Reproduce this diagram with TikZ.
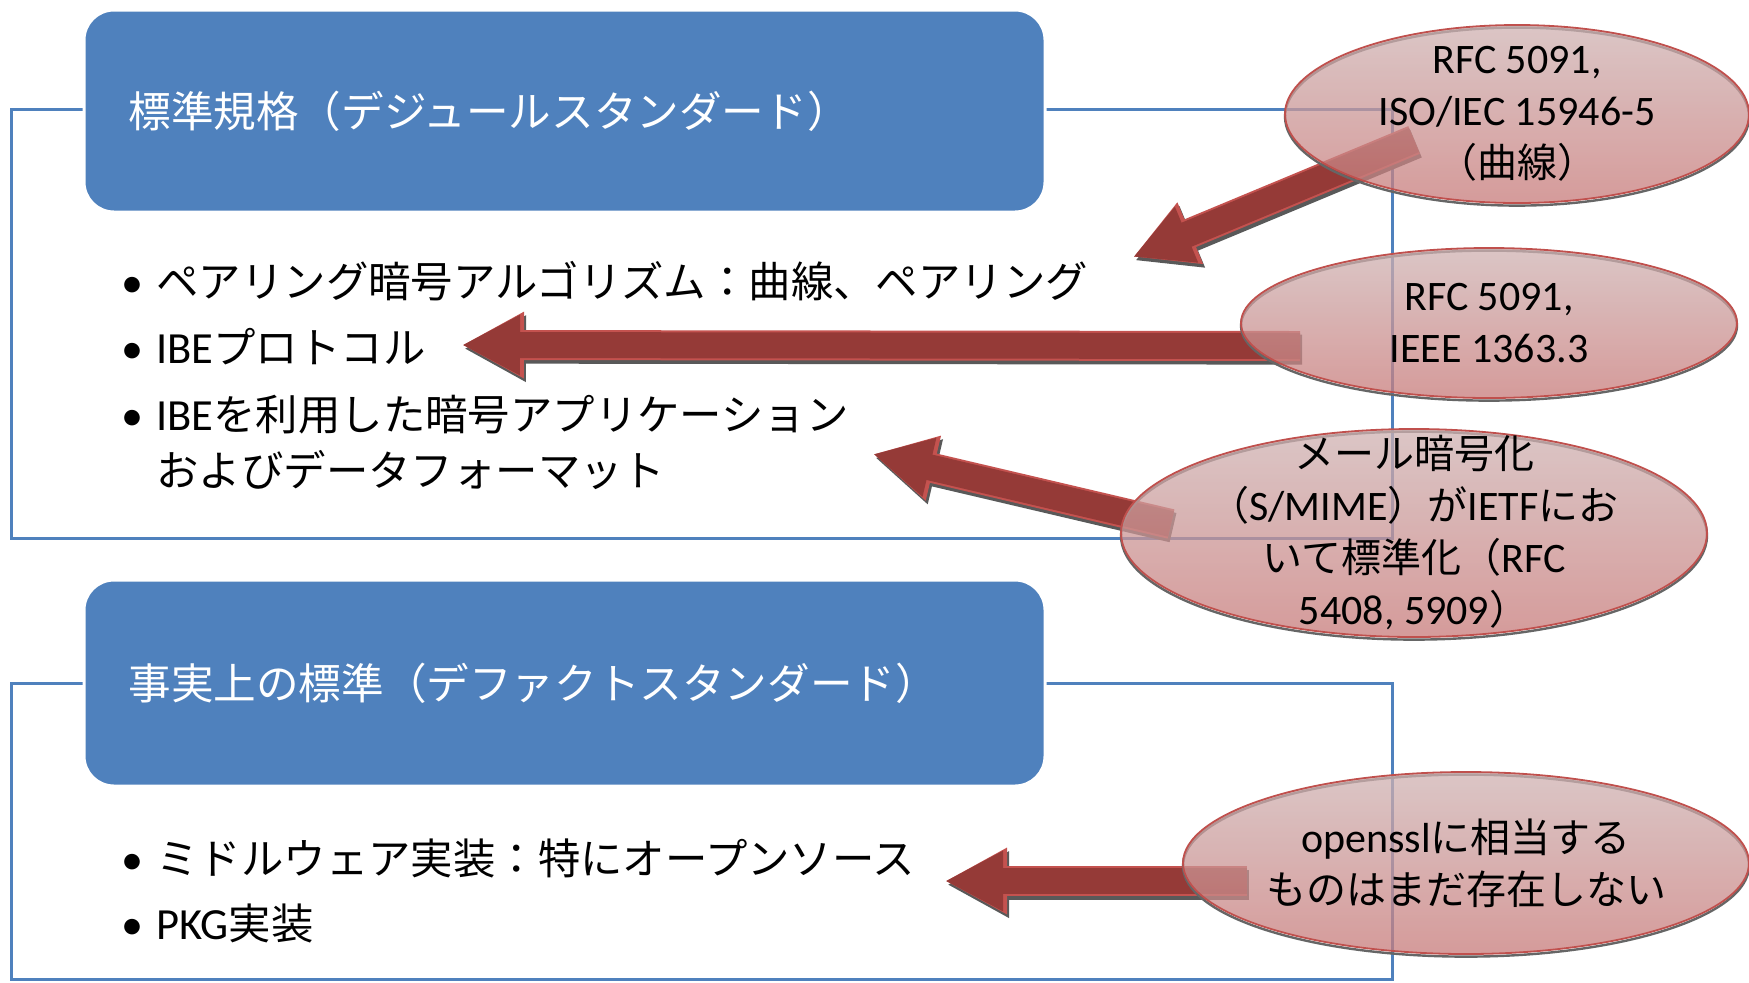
\documentclass[tikz,border=0pt]{standalone}
\usepackage{fontspec}
\setmainfont{Noto Sans CJK JP}
\newfontfamily\latfont[Scale=1.05]{Carlito}
\newcommand{\eng}[1]{{\latfont #1}}
\usetikzlibrary{shapes.geometric,arrows.meta}
\definecolor{hdrblue}{HTML}{4F81BD}
\definecolor{arrowred}{HTML}{953A37}
\definecolor{arrowedge}{HTML}{C4524F}
\definecolor{ovaltop}{HTML}{CFB3B3}
\definecolor{ovalbot}{HTML}{C87A79}
\definecolor{ovalline}{HTML}{C0504D}

\begin{document}
\begin{tikzpicture}[x=0.5pt,y=-0.5pt,
    frame/.style={draw=hdrblue, line width=1.5pt},
    header/.style={fill=hdrblue, draw=white, line width=1.5pt, rounded corners=15pt, text=white,
      font=\fontsize{21.3}{24}\selectfont, align=left, text width=436pt, inner xsep=22pt, minimum width=480.5pt},
    dot/.style={anchor=base, inner sep=0pt, font=\fontsize{21}{24}\selectfont\latfont},
    item/.style={anchor=base west, inner sep=0pt, font=\fontsize{21.2}{24}\selectfont},
    oval/.style={ellipse, draw=ovalline, line width=0.9pt, top color=ovaltop, bottom color=ovalbot,
      fill opacity=0.75, inner sep=0pt,
      preaction={draw=black!60, line width=1.2pt, transform canvas={yshift=-1.3pt}}},
    ovaltext/.style={align=center, inner sep=0pt, font=\fontsize{20}{26}\selectfont},
    bigarrow/.style={draw=arrowred, line width=13pt, -{Triangle[width=28pt,length=29pt]},
      preaction={draw=black!65, line width=15pt, -{Triangle[width=31pt,length=31pt]},
        transform canvas={shift={(1pt,-1.8pt)}}},
      preaction={draw=arrowedge, line width=15pt, -{Triangle[width=31pt,length=31pt]}}}
  ]
    \useasboundingbox (0,0) rectangle (1749,982);
    \fill[white] (0,0) rectangle (1749,982);

    \draw[frame] (11,109) rectangle (1392,538);
    \draw[frame] (11,683) rectangle (1392,979);

    \node[header, minimum height=101pt] (H1) at (564.5,111) {標準規格（デジュールスタンダード）};
    \node[header, minimum height=103pt] (H2) at (564.5,683) {事実上の標準（デファクトスタンダード）};

    \node[dot] (D1) at (132,297) {•};
    \node[item] (B1) at (156,297) {ペアリング暗号アルゴリズム：曲線、ペアリング};
    \node[dot] (D2) at (132,363) {•};
    \node[item] (B2) at (156,363) {\eng{IBE}プロトコル};
    \node[dot] (D3) at (132,430) {•};
    \node[item] (B3) at (156,430) {\eng{IBE}を利用した暗号アプリケーション};
    \node[item] (B3b) at (156,486) {およびデータフォーマット};

    \node[dot] (D4) at (132,874) {•};
    \node[item] (B4) at (156,874) {ミドルウェア実装：特にオープンソース};
    \node[dot] (D5) at (132,939) {•};
    \node[item] (B5) at (156,939) {\eng{PKG}実装};

    \coordinate (A1s) at (1414,140);
    \coordinate (A1e) at (1133,257);
    \coordinate (A2s) at (1300,346);
    \coordinate (A2e) at (462,345);
    \coordinate (A3s) at (1171,524);
    \coordinate (A3e) at (873,454);
    \coordinate (A4s) at (1247,881);
    \coordinate (A4e) at (945,881);

    \draw[bigarrow] (A1s) -- (A1e);
    \draw[bigarrow] (A2s) -- (A2e);
    \draw[bigarrow] (A3s) -- (A3e);
    \draw[bigarrow] (A4s) -- (A4e);

    \node[oval, minimum width=232pt, minimum height=89pt] (E1) at (1517,114) {};
    \node[oval, minimum width=248pt, minimum height=75pt] (E2) at (1489,323) {};
    \node[oval, minimum width=293pt, minimum height=104pt] (E3) at (1414,533) {};
    \node[oval, minimum width=283pt, minimum height=91pt] (E4) at (1466,863) {};

    \node[ovaltext] (T1) at (E1.center) {\eng{RFC 5091,}\\\eng{ISO/IEC 15946-5}\\（曲線）};
    \node[ovaltext] (T2) at (E2.center) {\eng{RFC 5091,}\\\eng{IEEE 1363.3}};
    \node[ovaltext] (T3) at (E3.center) {メール暗号化\\（\eng{S/MIME}）が\eng{IETF}にお\\いて標準化（\eng{RFC}\\\eng{5408, 5909}）};
    \node[ovaltext] (T4) at (E4.center) {\eng{openssl}に相当する\\ものはまだ存在しない};
\end{tikzpicture}
\end{document}
